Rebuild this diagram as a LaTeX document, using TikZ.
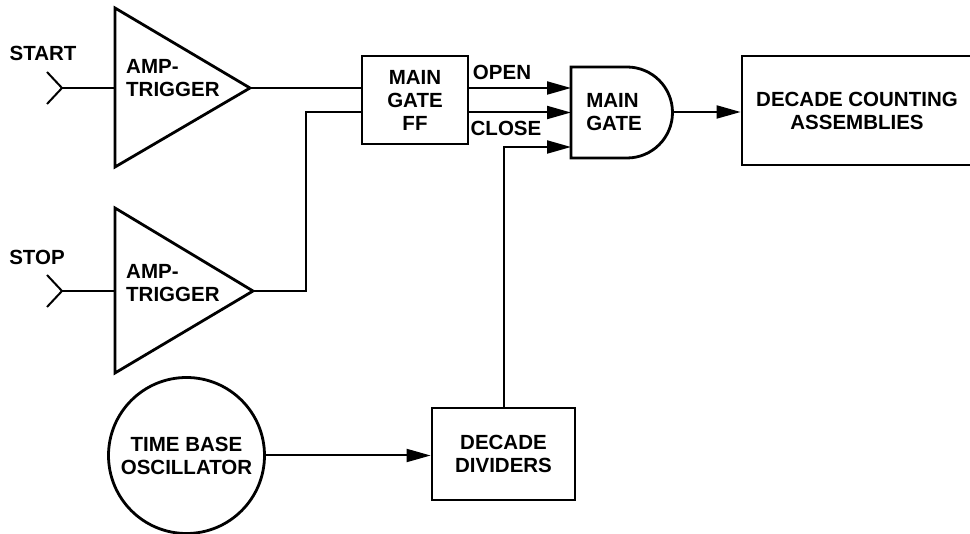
\documentclass[tikz,border=0pt]{standalone}
\usepackage{fontspec}
\setsansfont{Liberation Sans}
\usetikzlibrary{arrows.meta,positioning}

\begin{document}
\begin{tikzpicture}[
    x=1pt,y=-1pt,
    >={Triangle[length=24pt,width=13pt]},
    every node/.style={font=\sffamily\bfseries\fontsize{20.5}{23}\selectfont},
    wire/.style={line width=2pt},
    flow/.style={wire,->},
    block/.style={draw,line width=2.8pt,align=center,inner sep=0pt},
    lbl/.style={inner sep=0pt,align=left},
]
\useasboundingbox (0,0) rectangle (970,534);

% === Start and stop amp-triggers ===
\coordinate (startin) at (62,88);
\coordinate (stopin) at (62,291);
\coordinate (amp1in) at (115,88);
\coordinate (amp2in) at (115,291);
\draw[block] (115,8) -- (250,88) coordinate (amp1out) -- (115,167) -- cycle;
\draw[block] (115,208) -- (253,291) coordinate (amp2out) -- (115,373) -- cycle;
\node[lbl,anchor=west] (amp1txt) at (126,78) {AMP-\\TRIGGER};
\node[lbl,anchor=west] (amp2txt) at (126,283) {AMP-\\TRIGGER};
\node[lbl] (startlbl) at (43,53) {START};
\node[lbl] (stoplbl) at (37,257) {STOP};
\draw[wire] (47,72) -- (startin) -- (47,104);
\draw[wire] (47,275) -- (stopin) -- (47,307);
\draw[wire] (startin) -- (amp1in);
\draw[wire] (stopin) -- (amp2in);

% === Main gate flip-flop and main gate ===
\node[block,minimum width=106,minimum height=88] (ff) at (415,100) {MAIN\\GATE\\FF};
\draw[block] (571,67) -- (627,67) arc[start angle=-90,end angle=90,radius=45.5]
    -- (571,158) -- cycle;
\coordinate (gin1) at (571,88);
\coordinate (gin2) at (571,112.5);
\coordinate (gin3) at (571,147);
\coordinate (gout) at (672.5,112);
\node[lbl] (gatetxt) at (614,112) {MAIN\\GATE};
\node[block,minimum width=230,minimum height=109] (dca) at (857,110.5)
    {DECADE COUNTING\\ASSEMBLIES};

% === Time base ===
\node[block,circle,minimum size=156] (osc) at (186.5,455.5) {TIME BASE\\OSCILLATOR};
\node[block,minimum width=143,minimum height=92] (dd) at (503.5,454) {DECADE\\DIVIDERS};

% === Connections ===
\draw[wire] (amp1out) -- (amp1out -| ff.west);
\draw[wire] (amp2out) -- ++(53,0) |- (ff.west |- gin2);
\draw[flow] (ff.east |- gin1) -- (gin1);
\draw[flow] (ff.east |- gin2) -- (gin2);
\node[lbl] (openlbl) at (502,72) {OPEN};
\node[lbl] (closelbl) at (506,128) {CLOSE};
\draw[flow] (dd.north) |- (gin3);
\draw[flow] (gout) -- (gout -| dca.west);
\draw[flow] (osc.east) -- (osc.east -| dd.west);
\end{tikzpicture}
\end{document}
